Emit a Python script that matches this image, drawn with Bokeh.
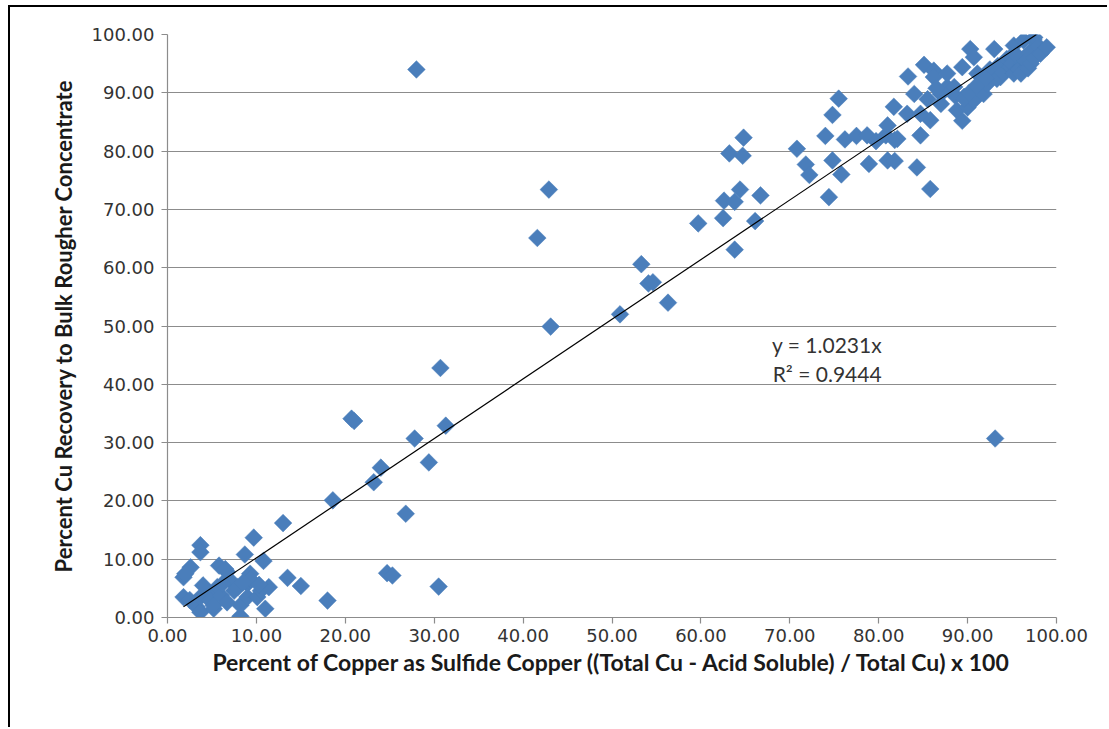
import numpy as np
from bokeh.plotting import figure
from bokeh.models import FixedTicker, NumeralTickFormatter, Range1d, ColumnDataSource
from bokeh.core.properties import value
from bokeh.embed import file_html
from bokeh.resources import INLINE

# Percent of copper as sulfide copper (x) vs percent Cu recovery (y)
sulfide_pct = [
    1.8, 1.8, 2.6, 2.0, 2.5, 3.3, 3.7, 3.7, 3.7, 3.7, 4.6, 4.8, 5.2, 5.2, 5.6, 5.8, 6.0, 6.7, 6.5,
    6.7, 7.1, 7.5, 7.9, 8.2, 8.2, 8.7, 9.0, 9.0, 9.3, 9.3, 9.7, 10.1, 10.5, 10.8, 11.0, 11.4,
    13.0, 13.5, 15.0, 18.0, 18.6, 4.0, 6.2, 8.5, 10.3,
    20.7, 21.0, 23.2, 24.0, 24.7, 25.3, 26.8, 27.8, 28.0, 29.4, 30.5, 30.7, 31.3,
    41.6, 42.9, 43.1, 50.9, 53.3, 54.1, 54.6, 56.3, 59.7, 62.5, 62.6, 63.2, 63.8, 63.8,
    64.4, 64.7, 64.8, 66.1, 66.7, 70.8, 71.8, 72.2, 74.0, 74.4, 74.8, 75.5, 74.8, 75.8,
    76.2, 77.5, 78.7, 79.7, 78.9, 80.8, 81.0, 81.0, 81.8, 81.8, 81.7, 82.1, 83.2, 83.3,
    84.3, 84.7, 85.8, 85.8, 84.7, 93.1,
    84.0, 85.1, 86.2, 85.5, 86.2, 87.0, 87.0, 87.7, 87.7, 88.5, 88.8, 89.4, 89.4, 89.6,
    90.0, 90.3, 90.7, 90.7, 91.1, 91.4, 91.8, 92.2, 92.5, 93.0, 93.3, 93.4, 93.7, 94.0,
    94.4, 94.8, 94.8, 95.0, 95.2, 95.2, 95.5, 95.8, 96.0, 96.3, 96.5, 96.8, 97.0, 97.1,
    97.4, 97.5, 97.5, 98.0, 98.2, 98.9, 86.5, 88.6, 89.6, 90.2, 91.0, 92.0,
]
recovery_pct = [
    3.5, 6.9, 8.6, 7.5, 3.0, 1.8, 0.9, 12.4, 11.2, 3.5, 4.1, 2.9, 1.5, 2.1, 5.2, 8.9, 3.8, 7.8, 8.3,
    2.6, 6.3, 4.6, 5.2, 0.2, 2.1, 10.8, 5.8, 3.5, 7.5, 6.6, 13.7, 3.5, 4.6, 9.7, 1.5, 5.2,
    16.2, 6.8, 5.4, 2.9, 20.1, 5.5, 5.8, 6.0, 5.6,
    34.1, 33.7, 23.2, 25.7, 7.6, 7.2, 17.8, 30.7, 94.0, 26.6, 5.3, 42.8, 32.9,
    65.1, 73.4, 49.9, 52.0, 60.6, 57.3, 57.5, 54.0, 67.6, 68.5, 71.5, 79.6, 71.3, 63.1,
    73.4, 79.2, 82.3, 68.0, 72.4, 80.4, 77.7, 75.9, 82.6, 72.1, 86.2, 89.0, 78.4, 76.0,
    82.0, 82.6, 82.7, 81.7, 77.8, 82.7, 84.4, 78.4, 78.3, 81.9, 87.6, 82.1, 86.4, 92.8,
    77.2, 82.7, 73.5, 85.3, 86.4, 30.7,
    89.8, 94.8, 93.8, 88.9, 92.7, 89.8, 88.1, 91.0, 93.3, 91.0, 87.0, 85.2, 94.4, 89.3,
    87.5, 97.5, 88.7, 96.1, 93.3, 91.0, 89.8, 91.5, 94.0, 97.5, 92.4, 94.6, 92.7, 93.5,
    95.8, 94.4, 96.1, 95.0, 93.3, 98.1, 96.5, 94.0, 93.3, 99.0, 95.5, 94.2, 97.0, 95.0,
    99.2, 96.0, 99.5, 98.0, 96.7, 97.8, 90.8, 89.5, 89.0, 90.0, 91.2, 92.5,
]
trend_slope = 1.0231
trend_r2 = 0.9444
x_ticks = [0, 10, 20, 30, 40, 50, 60, 70, 80, 90, 100]
y_ticks = [0, 10, 20, 30, 40, 50, 60, 70, 80, 90, 100]
x_title = "Percent of Copper as Sulfide Copper ((Total Cu - Acid Soluble) / Total Cu) x 100"
y_title = "Percent Cu Recovery to Bulk Rougher Concentrate"

p = figure(width=1099, height=722, output_backend="svg", toolbar_location=None,
           x_range=Range1d(0, 100), y_range=Range1d(0, 100),
           min_border_left=157, min_border_right=53, min_border_top=27, min_border_bottom=112)
p.styles = {"margin-left": "8px", "margin-top": "5px",
            "border-top": "2px solid black", "border-left": "2px solid black"}
p.outline_line_color = None
p.background_fill_color = "white"
p.border_fill_color = "white"

grid_col = "#8c8c8c"
p.xgrid.grid_line_color = None
p.ygrid.grid_line_color = grid_col
p.ygrid.grid_line_width = 1.2
p.ygrid.ticker = FixedTicker(ticks=y_ticks)

for ax, ticks in ((p.xaxis[0], x_ticks), (p.yaxis[0], y_ticks)):
    ax.ticker = FixedTicker(ticks=ticks)
    ax.formatter = NumeralTickFormatter(format="0.00")
    ax.axis_line_color = grid_col
    ax.axis_line_width = 1.2
    ax.major_tick_line_color = grid_col
    ax.major_tick_line_width = 1.2
    ax.major_tick_out = 6
    ax.major_tick_in = 0
    ax.minor_tick_line_color = None
    ax.major_label_text_font = "DejaVu Sans"
    ax.major_label_text_font_size = "18px"
    ax.major_label_text_color = "#333333"
    ax.axis_label_text_font = "Lato"
    ax.axis_label_text_font_style = "bold"
    ax.axis_label_text_font_size = "22px"
    ax.axis_label_text_color = "#1a1a1a"

p.xaxis.axis_label = x_title
p.yaxis.axis_label = y_title
p.xaxis.axis_label_text_font_size = "23px"
p.yaxis.major_label_standoff = 7
p.xaxis.major_label_standoff = 5
p.yaxis.axis_label_standoff = 12
p.xaxis.axis_label_standoff = 3

src = ColumnDataSource(dict(x=sulfide_pct, y=recovery_pct))
p.scatter("x", "y", source=src, marker="square", angle=np.pi / 4, size=12.5,
          fill_color="#4a7ebb", line_color="#4a7ebb", line_width=0.5)

x0 = min(sulfide_pct)
x1 = min(max(sulfide_pct), 100 / trend_slope)
p.line([x0, x1], [trend_slope * x0, trend_slope * x1], line_color="black", line_width=1.2)

p.text(x=[74.2, 74.2], y=[46.8, 41.8],
       text=[f"y = {trend_slope}x", f"R² = {trend_r2}"],
       text_font=value("Lato"), text_font_size="21px", text_color="#333333",
       text_align="center", text_baseline="middle")

open("out.html", "w").write(file_html(p, INLINE))
